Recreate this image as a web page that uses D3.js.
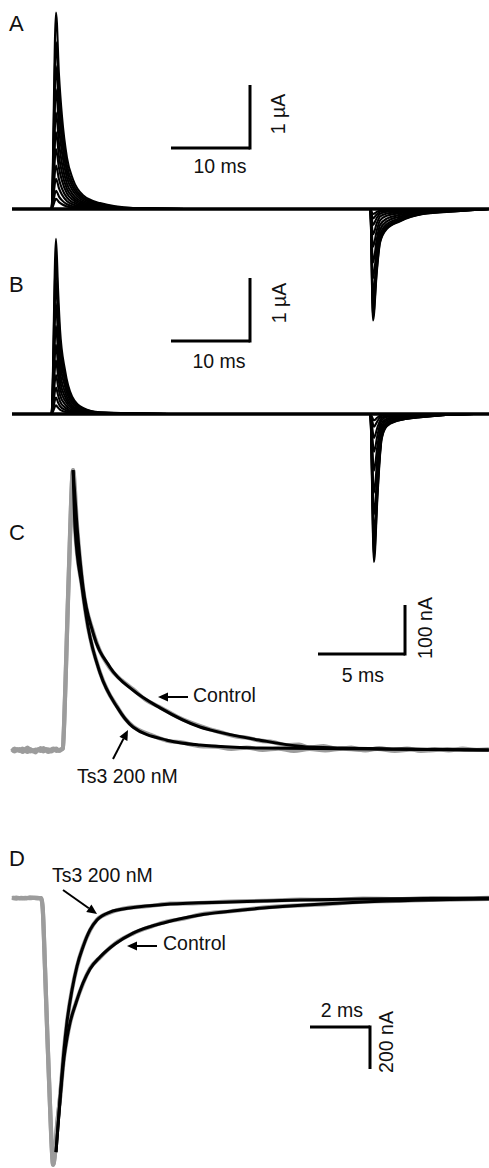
<!DOCTYPE html>
<html><head><meta charset="utf-8">
<script src="https://cdn.jsdelivr.net/npm/d3@7"></script>
<style>
body{margin:0;background:#fff}
svg text{font-family:"Liberation Sans",Arial,sans-serif;fill:#111}
</style>
</head><body>
<svg id="chart" width="489" height="1168"></svg>
<script>
// ---------------- DATA ----------------
// Panel A/B: families of traces (time in ms, current in µA)
// normalized outward-current template
const outA_t = [0, 5.0, 5.57, 5.95, 6.33, 6.96, 7.72, 8.99, 11.14, 15.32, 22, 45.3];
const outA_f = [0, 0, 1, 0.68, 0.47, 0.26, 0.15, 0.07, 0.03, 0.005, 0, 0];
const tailA_t = [45.35, 45.70, 46.17, 46.59, 47.43, 49.12, 52.03, 56.33, 60.4];
const tailA_f = [0, -1, -0.57, -0.30, -0.18, -0.11, -0.045, -0.02, 0];
const ampOutA = [3.12, 2.65, 2.27, 1.9, 1.53, 1.22, 0.95, 0.69, 0.48, 0.29, 0.16];
const ampTailA = [1.77, 1.7, 1.55, 1.35, 1.1, 0.85, 0.6, 0.4, 0.25, 0.15, 0.08];

const outB_t = [0, 5.0, 5.57, 5.82, 6.08, 6.71, 7.6, 8.99, 11.14, 20, 45.3];
const outB_f = [0, 0, 1, 0.72, 0.48, 0.25, 0.10, 0.035, 0.01, 0, 0];
const tailB_t = [45.35, 45.82, 46.24, 46.49, 46.79, 47.43, 48.69, 52.02, 58.5, 60.4];
const tailB_f = [0, -1, -0.58, -0.35, -0.17, -0.082, -0.048, -0.02, 0, 0];
const ampOutB = [2.78, 2.45, 2.1, 1.75, 1.4, 1.1, 0.85, 0.62, 0.42, 0.26, 0.14];
const ampTailB = [2.35, 2.25, 2.1, 1.9, 1.6, 1.25, 0.9, 0.6, 0.38, 0.2, 0.1];

// Panel C (ms, nA): fitted curves and raw (grey) recordings
const fitC_ctrl = [[3.51,571],[3.74,455],[4.08,333],[4.66,239],[5.63,169],[6.95,122],[8.51,86],[10.8,47],[11.38,41],[14.25,20],[17.13,6],[22.3,2],[27.4,0]];
const fitC_ts3 = [[3.51,571],[3.62,455],[4.02,333],[4.37,251],[5.06,157],[6.03,88],[6.95,47],[8.91,20],[10.8,10],[14.25,4],[27.4,0]];
const rawC_ctrl = [[0,-2],[0.15,3],[0.3,-1],[0.45,2],[0.6,-4],[0.75,1],[0.9,5],[1.05,-3],[1.2,0],[1.35,-5],[1.5,2],[1.65,-2],[1.8,4],[1.95,-1],[2.1,-4],[2.25,1],[2.4,3],[2.55,-2],[2.7,0],[2.85,2],
  [2.92,4],[3.0,60],[3.1,170],[3.2,290],[3.3,400],[3.4,510],[3.47,562],[3.51,571],
  [3.74,456],[4.08,331],[4.66,241],[5.63,167],[6.3,142],[6.95,124],[7.7,102],[8.51,87],[9.6,66],[10.8,49],[11.4,42],[12.0,36],[12.8,28],[13.5,25],[14.25,19],[15.0,16],[15.8,10],[16.5,11],[17.1,5],[17.9,8],[18.7,2],[19.5,5],[20.3,-1],[21.1,4],[21.9,0],[22.7,3],[23.5,-2],[24.3,2],[25.1,-1],[25.9,3],[26.7,0],[27.4,1]];
const rawC_ts3 = [[0,1],[0.15,-3],[0.3,2],[0.45,-2],[0.6,3],[0.75,-1],[0.9,-4],[1.05,2],[1.2,-3],[1.35,1],[1.5,-1],[1.65,4],[1.8,-3],[1.95,2],[2.1,1],[2.25,-3],[2.4,0],[2.55,3],[2.7,-2],[2.85,1],
  [2.92,3],[3.0,55],[3.1,165],[3.2,285],[3.3,395],[3.4,505],[3.47,560],[3.51,571],
  [3.62,455],[4.02,334],[4.37,250],[5.06,158],[5.5,120],[6.03,89],[6.5,64],[6.95,48],[7.9,32],[8.91,19],[9.8,15],[10.8,8],[11.7,7],[12.6,2],[13.5,5],[14.4,0],[15.3,3],[16.2,-2],[17.1,2],[18,-1],[19,3],[20,0],[21,2],[22,-2],[23,1],[24,-1],[25,2],[26,0],[27.4,1]];

// Panel D (ms, nA)
const fitD_ctrl = [[1.467,-1210],[1.6,-962],[1.733,-762],[1.833,-667],[1.933,-595],[2.133,-500],[2.367,-405],[2.6,-338],[2.933,-281],[3.433,-219],[4.033,-167],[5.167,-114],[6.267,-81],[8.367,-48],[11.7,-19],[15.9,-5]];
const fitD_ts3 = [[1.467,-1210],[1.6,-962],[1.733,-724],[1.833,-590],[2.0,-438],[2.167,-324],[2.367,-233],[2.6,-152],[2.833,-105],[3.267,-67],[3.933,-48],[5.267,-29],[7.267,-19],[9.6,-10],[11.7,-5],[15.9,0]];
const rawD_ctrl = [[0,2],[0.15,-3],[0.3,1],[0.45,-2],[0.6,3],[0.75,0],[0.9,-2],[0.97,0],[1.02,-40],[1.1,-330],[1.18,-660],[1.26,-960],[1.32,-1170],[1.37,-1271],[1.42,-1235],[1.5,-1090],[1.6,-955],[1.733,-760],[1.833,-668],[1.933,-596],[2.133,-498],[2.367,-407],[2.6,-336],[2.933,-283],[3.433,-217],[4.033,-169],[4.6,-138],[5.167,-112],[5.7,-99],[6.267,-79],[7.3,-63],[8.367,-46],[9.4,-36],[10.5,-29],[11.7,-17],[12.8,-14],[13.9,-9],[15.0,-7],[15.9,-4]];
const rawD_ts3 = [[0,-1],[0.15,2],[0.3,-2],[0.45,1],[0.6,-1],[0.75,2],[0.9,0],[0.97,-1],[1.02,-45],[1.1,-335],[1.18,-665],[1.26,-965],[1.32,-1175],[1.37,-1268],[1.42,-1232],[1.5,-1085],[1.6,-950],[1.733,-722],[1.833,-592],[2.0,-436],[2.167,-326],[2.367,-231],[2.6,-154],[2.833,-103],[3.267,-69],[3.933,-46],[4.6,-38],[5.267,-27],[6.2,-24],[7.267,-17],[8.4,-14],[9.6,-8],[10.6,-9],[11.7,-3],[12.9,-5],[14.0,-1],[15.0,-3],[15.9,1]];

// scale-bar values and labels
const scaleBarA = {ms: 10, amp: 1, tLabel: "10 ms", aLabel: "1 µA"};
const scaleBarC = {ms: 5, amp: 100, tLabel: "5 ms", aLabel: "100 nA"};
const scaleBarD = {ms: 2, amp: -200, tLabel: "2 ms", aLabel: "200 nA"};

// ---------------- DRAW ----------------
const svg = d3.select("#chart");
const FS = 19.5;

function familyPanel(yBase, outT, outF, tailT, tailF, ampOut, ampTail, pxPerUA) {
  const x = d3.scaleLinear().domain([0, 60.38]).range([12, 489]);
  const y = d3.scaleLinear().domain([0, 1]).range([yBase, yBase - pxPerUA]);
  const line = d3.line().x(d => x(d[0])).y(d => y(d[1])).curve(d3.curveMonotoneX);
  const g = svg.append("g");
  ampOut.forEach((a, i) => {
    const pts = outT.map((t, k) => [t, outF[k]*a]).concat(tailT.map((t,k) => [t, tailF[k]*ampTail[i]]));
    g.append("path").attr("d", line(pts)).attr("stroke","#000").attr("stroke-width",2.1).attr("fill","none");
  });
  // baseline
  g.append("path").attr("d", line([[0,0],[60.38,0]])).attr("stroke","#000").attr("stroke-width",3.4).attr("fill","none");
  return {x, y};
}

const A = familyPanel(209, outA_t, outA_f, tailA_t, tailA_f, ampOutA, ampTailA, 63);
const B = familyPanel(414, outB_t, outB_f, tailB_t, tailB_f, ampOutB, ampTailB, 63);

function scaleBar(sx, sy, t0, v0, bar, opts) {
  const xL = sx(t0), xR = sx(t0 + bar.ms), yH = sy(v0), yV = sy(v0 + bar.amp);
  const dir = yV < yH ? 1.5 : -1.5;
  svg.append("path").attr("d", `M${xL},${yH}H${xR}`).attr("stroke","#000").attr("stroke-width",3).attr("fill","none");
  svg.append("path").attr("d", `M${xR},${yH + dir}V${yV}`).attr("stroke","#000").attr("stroke-width",3).attr("fill","none");
  svg.append("text").attr("x", opts.tx).attr("y", opts.ty).attr("text-anchor","middle").attr("font-size",FS).text(bar.tLabel);
  svg.append("text").attr("transform", `translate(${opts.ax},${opts.ay}) rotate(-90)`).attr("text-anchor","middle").attr("font-size",FS).text(bar.aLabel);
}

scaleBar(A.x, A.y, A.x.invert(171), A.y.invert(148), scaleBarA, {tx:220, ty:173, ax:285, ay:114});
scaleBar(B.x, B.y, B.x.invert(171), B.y.invert(341), scaleBarA, {tx:219, ty:368, ax:286, ay:303});

// Panel C
const xC = d3.scaleLinear().domain([0, 27.41]).range([12, 489]);
const yC = d3.scaleLinear().domain([0, 100]).range([750, 701]);
const lineC = d3.line().x(d => xC(d[0])).y(d => yC(d[1])).curve(d3.curveMonotoneX);
[rawC_ctrl, rawC_ts3].forEach(r => svg.append("path").attr("d", lineC(r)).attr("stroke","#9c9c9c").attr("stroke-width",4.2).attr("fill","none").attr("stroke-linejoin","round"));
[fitC_ctrl, fitC_ts3].forEach(f => svg.append("path").attr("d", lineC(f)).attr("stroke","#000").attr("stroke-width",3).attr("fill","none"));
scaleBar(xC, yC, xC.invert(318), yC.invert(654), scaleBarC, {tx:363, ty:682, ax:432, ay:628});

// Panel D
const xD = d3.scaleLinear().domain([0, 15.9]).range([12, 489]);
const yD = d3.scaleLinear().domain([-200, 0]).range([940, 898]);
const lineD = d3.line().x(d => xD(d[0])).y(d => yD(d[1])).curve(d3.curveMonotoneX);
[rawD_ctrl, rawD_ts3].forEach(r => svg.append("path").attr("d", lineD(r)).attr("stroke","#9c9c9c").attr("stroke-width",4.2).attr("fill","none").attr("stroke-linejoin","round"));
[fitD_ctrl, fitD_ts3].forEach(f => svg.append("path").attr("d", lineD(f)).attr("stroke","#000").attr("stroke-width",3).attr("fill","none"));
scaleBar(xD, yD, xD.invert(310), yD.invert(1027), scaleBarD, {tx:342, ty:1017, ax:393, ay:1042});

// panel letters
[["A",31],["B",292],["C",540],["D",866]].forEach(([l,yy]) =>
  svg.append("text").attr("x",9).attr("y",yy).attr("font-size",22).text(l));

// annotations with arrows
function arrow(x1,y1,x2,y2){
  const ang = Math.atan2(y2-y1, x2-x1), L = 10, W = 4.5;
  const bx = x2 - L*Math.cos(ang), by = y2 - L*Math.sin(ang);
  svg.append("line").attr("x1",x1).attr("y1",y1).attr("x2",bx).attr("y2",by).attr("stroke","#000").attr("stroke-width",2);
  const px = -Math.sin(ang)*W, py = Math.cos(ang)*W;
  svg.append("path").attr("d",`M${x2},${y2}L${bx+px},${by+py}L${bx-px},${by-py}Z`).attr("fill","#000");
}
svg.append("text").attr("x",193).attr("y",702).attr("font-size",FS).text("Control");
arrow(188,697,158,697);
svg.append("text").attr("x",77).attr("y",783).attr("font-size",FS).text("Ts3 200 nM");
arrow(113,759,128,730);
svg.append("text").attr("x",52).attr("y",882).attr("font-size",FS).text("Ts3 200 nM");
arrow(63,890,97,914);
svg.append("text").attr("x",163).attr("y",950).attr("font-size",FS).text("Control");
arrow(157,946,127,946);
</script>
</body></html>
